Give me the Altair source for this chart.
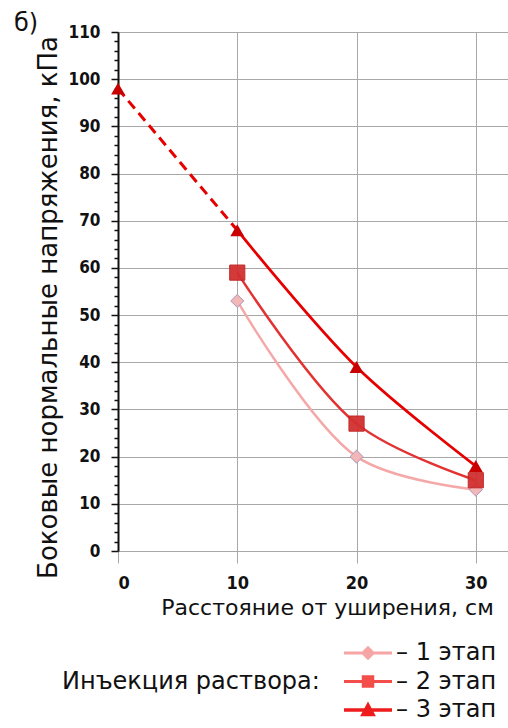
import altair as alt
import pandas as pd

# ---- data ----
distance = [10, 20, 30]
stage1 = [53, 20, 13]
stage2 = [59, 27, 15]
stage3 = [68, 39, 18]
extrap_x = [0, 10]
extrap_y = [98, 68]

series_names = ["– 1 этап", "– 2 этап", "– 3 этап"]

rows = []
for name, vals in zip(series_names, [stage1, stage2, stage3]):
    for xv, yv in zip(distance, vals):
        rows.append({"x": xv, "y": yv, "series": name})
df = pd.DataFrame(rows)
df_ext = pd.DataFrame({"x": extrap_x, "y": extrap_y, "series": series_names[2]})

y_ticks = list(range(0, 112, 2))
x_ticks = [0, 10, 20, 30]

LABEL_FONT = "DejaVu Sans Condensed"
TEXT_FONT = "DejaVu Sans"

xscale = alt.Scale(domain=[0, 32.7], nice=False, zero=False)
yscale = alt.Scale(domain=[0, 110], nice=False)

xenc = alt.X(
    "x:Q", scale=xscale,
    axis=alt.Axis(
        values=x_ticks, title="Расстояние от уширения, см",
        grid=True, gridColor="#a8a8a8", gridWidth=1,
        domainColor="#a8a8a8", domainWidth=1,
        tickColor="#a8a8a8", tickSize=12, tickWidth=1,
        labelFont=LABEL_FONT, labelFontWeight="bold", labelFontSize=18,
        labelColor="#111", labelPadding=11,
        titleFont=TEXT_FONT, titleFontSize=22, titleFontWeight="normal",
        titleColor="#111", titleAnchor="middle", titleX=209, titleY=46,
    ),
)
yenc = alt.Y(
    "y:Q", scale=yscale,
    axis=alt.Axis(
        values=y_ticks, title="Боковые нормальные напряжения, кПа",
        labelExpr="datum.value % 10 === 0 ? datum.label : ''",
        grid=True, gridColor="#a8a8a8", gridWidth=1,
        gridOpacity={"condition": {"test": "datum.value % 10 === 0", "value": 1}, "value": 0},
        domainColor="#111", domainWidth=2,
        tickColor="#111", tickWidth=1.5,
        tickSize={"condition": {"test": "datum.value % 10 === 0", "value": 7}, "value": 4},
        labelFont=LABEL_FONT, labelFontWeight="bold", labelFontSize=17,
        labelColor="#111", labelPadding=11,
        titleFont=TEXT_FONT, titleFontSize=26, titleFontWeight="normal",
        titleColor="#111", titleAnchor="middle", titleX=-70, titleY=275,
        titleAngle=270, titleBaseline="middle",
    ),
)

base = alt.Chart(df).encode(x=xenc, y=yenc)

def one(name):
    return alt.datum.series == name

line1 = base.mark_line(color="#f5a8a8", strokeWidth=2.5, interpolate="catmull-rom").transform_filter(one(series_names[0]))
line2 = base.mark_line(color="#e23232", strokeWidth=2.5, interpolate="catmull-rom").transform_filter(one(series_names[1]))
line3 = base.mark_line(color="#e60000", strokeWidth=2.8, interpolate="catmull-rom").transform_filter(one(series_names[2]))
dash3 = alt.Chart(df_ext).mark_line(color="#e60000", strokeWidth=3, strokeDash=[10, 6]).encode(x=xenc, y=yenc)

pt1 = base.mark_point(shape="diamond", filled=True, size=170, fill="#f3b7b7", stroke="#a898b8",
                      strokeWidth=1, opacity=1).transform_filter(one(series_names[0]))
pt2 = base.mark_point(shape="square", filled=True, size=230, fill="#d23030", stroke="#c02020",
                      strokeWidth=1, opacity=0.95).transform_filter(one(series_names[1]))
pt3 = base.mark_point(shape="triangle-up", filled=True, size=190, color="#c80000",
                      opacity=1).transform_filter(one(series_names[2]))
pt3b = alt.Chart(df_ext).mark_point(shape="triangle-up", filled=True, size=190, color="#c80000",
                                    opacity=1).encode(x=xenc, y=yenc).transform_filter(alt.datum.x == 0)

# legend-only layer (symbols: line with marker)
legend_paths = [
    "M-2,-0.13H2V0.13H-2Z M0,-0.6L0.6,0L0,0.6L-0.6,0Z",
    "M-2,-0.13H2V0.13H-2Z M-0.52,-0.52H0.52V0.52H-0.52Z",
    "M-2,-0.14H2V0.14H-2Z M0,-0.7L0.66,0.52H-0.66Z",
]
legend_colors = ["#f7a4a4", "#f44e4a", "#ee1c1c"]
legend_props = dict(
    orient="none", legendX=-56, legendY=609,
    title="Инъекция раствора:", titleOrient="left", titleAnchor="middle",
    titleBaseline="middle", titleFont=TEXT_FONT, titleFontSize=24,
    titleFontWeight="normal", titleColor="#111", titlePadding=36, titleLimit=500,
    labelFont=TEXT_FONT, labelFontSize=24, labelColor="#111", labelOffset=16,
    labelLimit=300,
    symbolSize=576, rowPadding=4.5, symbolStrokeWidth=0, symbolOpacity=1,
)
legend_layer = alt.Chart(df).mark_point(filled=True, size=576, opacity=1).encode(
    x=xenc, y=yenc,
    color=alt.Color("series:N", scale=alt.Scale(domain=series_names, range=legend_colors),
                    legend=alt.Legend(**legend_props)),
    shape=alt.Shape("series:N", scale=alt.Scale(domain=series_names, range=legend_paths),
                    legend=alt.Legend(**legend_props)),
).transform_filter(alt.datum.x > 1000)

chart = alt.layer(
    line1, line2, dash3, line3, legend_layer, pt1, pt2, pt3, pt3b
).properties(
    width=390, height=519,
    padding={"left": 118, "top": 32, "right": 0, "bottom": 177},
    autosize=alt.AutoSizeParams(type="none"),
    title=alt.TitleParams("б)", anchor="start", frame="group", dx=-104, dy=13, fontSize=24,
                          font=TEXT_FONT, fontWeight="normal", color="#111", offset=0),
).configure_view(stroke=None).configure(background="white")

chart.save("out.html", embed_options={"renderer": "svg", "actions": False})
